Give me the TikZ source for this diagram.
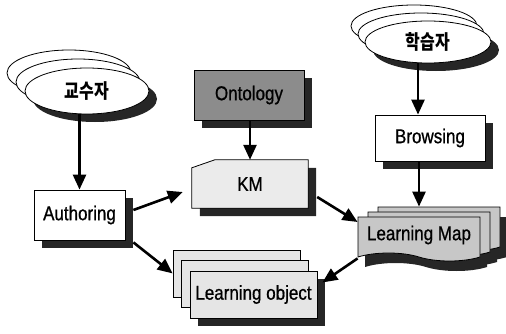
\documentclass[tikz,border=0pt]{standalone}
\usepackage{fontspec}
\setmainfont[FakeStretch=0.85, FakeBold=0.8]{Liberation Sans}
\newfontfamily\kr[FakeStretch=0.8]{Noto Sans CJK KR}
\usetikzlibrary{arrows.meta, positioning, shapes.geometric, shapes.symbols, shadows, backgrounds}

\begin{document}
\begin{tikzpicture}[x=1pt, y=1pt,
        every node/.style={font=\fontsize{20pt}{22pt}\selectfont, inner sep=0pt},
        shade/.style={drop shadow={shadow xshift=8pt, shadow yshift=-8pt, fill=black!85, opacity=1}},
        actor/.style={draw, ellipse, thick, fill=white},
        box/.style={draw, rectangle, thick, fill=white},
        sheet/.style={draw, rectangle, thick, fill=black!10, minimum width=127pt, minimum height=47pt},
        mapsheet/.style={draw, tape, thick, tape bend top=none, tape bend bottom=out and in,
                tape bend height=8pt, fill=black!22, minimum width=122pt, minimum height=44pt},
        arr/.style={line width=2.6pt, -{Triangle[length=15pt, width=13pt]}}]
    \useasboundingbox (0,0) rectangle (506,333);

    % actors
    \foreach \d/\n in {18/3, 9/2}
        \node[actor, minimum width=124pt, minimum height=46pt] (kyosu\n) at (87-\d, 242+\d) {};
    \node[actor, shade, minimum width=124pt, minimum height=46pt] (kyosu) at (87,242) {\kr\bfseries 교수자};
    \foreach \d/\n in {14/3, 7/2}
        \node[actor, minimum width=126pt, minimum height=42pt] (hak\n) at (428-\d, 291+8/7*\d) {};
    \node[actor, shade, minimum width=126pt, minimum height=42pt] (hak) at (428,291) {\kr\bfseries 학습자};

    % boxes
    \node[box, shade, minimum width=91pt, minimum height=50pt] (auth) at (79.5,118) {Authoring};
    \node[box, shade, fill=black!45, minimum width=110pt, minimum height=50pt] (onto) at (249,238) {Ontology};
    \node[box, shade, minimum width=110pt, minimum height=46pt] (brow) at (430,195) {Browsing};
    \node[minimum width=116pt, minimum height=48pt] (km) at (250,149) {KM};
    \begin{scope}[on background layer]
        \draw[thick, fill=black!8, shade] ([yshift=-8pt]km.north west) -- ([xshift=23pt]km.north west)
            -- (km.north east) -- (km.south east) -- (km.south west) -- cycle;
    \end{scope}

    % learning objects
    \foreach \d/\n in {17/3, 8.5/2}
        \node[sheet] (lo\n) at (253.5-\d, 38.5+1.24*\d) {};
    \node[sheet, shade] (lo) at (253.5,38.5) {Learning object};

    % learning map
    \foreach \d in {20, 10, 0}
        \node[mapsheet, draw=none, fill=black!85] at (426+\d, 88+\d/2) {};
    \foreach \d/\n in {20/3, 10/2}
        \node[mapsheet] (lm\n) at (419+\d, 98+\d/2) {};
    \node[mapsheet] (lm) at (419,98) {Learning Map};

    % arrows
    \draw[arr] (kyosu.south -| auth.north) -- (auth.north);
    \draw[arr] ([xshift=-12pt]brow.north |- hak.south) -- ([xshift=-12pt]brow.north);
    \draw[arr] (onto.south -| km.north) -- (km.north);
    \draw[arr] (brow.south -| lm.north) -- (lm.north |- lm3.north);
    \draw[arr] ([xshift=8pt, yshift=5pt]auth.east) -- ([xshift=-9pt, yshift=-8pt]km.west);
    \draw[arr] ([xshift=8pt, yshift=-2pt]auth.south east) -- (lo3.west);
    \draw[arr] ([xshift=9pt, yshift=-13pt]km.east) -- ([yshift=13pt]lm.west);
    \draw[arr] ([yshift=-5pt]lm.south west) -- ([xshift=5pt, yshift=12pt]lo.east);
\end{tikzpicture}
\end{document}
